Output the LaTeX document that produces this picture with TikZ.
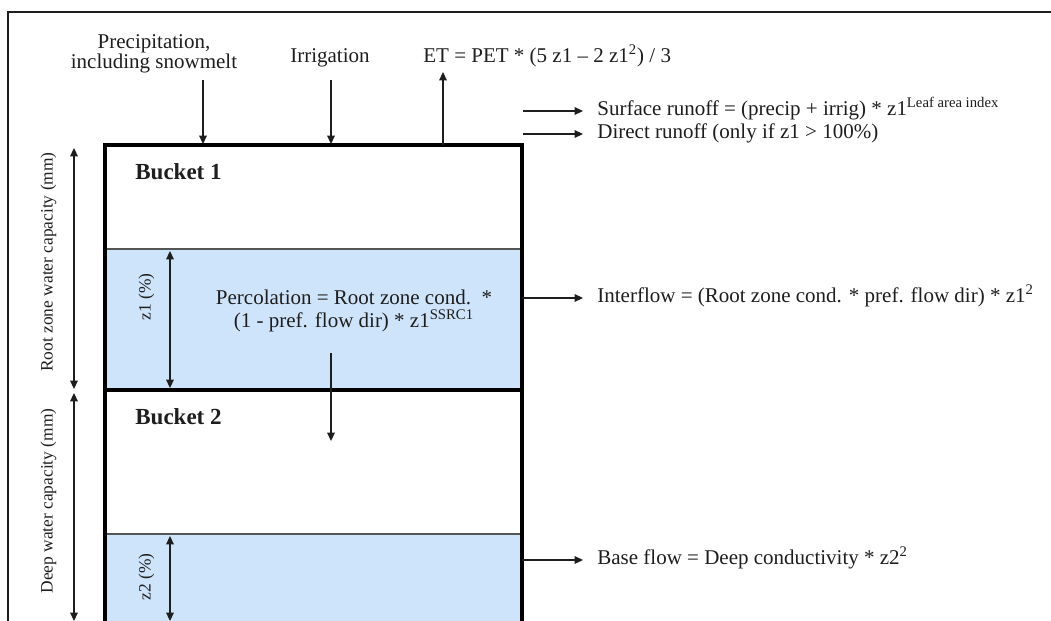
\documentclass[tikz,border=0pt]{standalone}
\usepackage{fontspec}
\setmainfont{Liberation Serif}
\usetikzlibrary{arrows.meta}
\definecolor{water}{RGB}{206,228,250}
\definecolor{ink}{RGB}{30,30,30}
\definecolor{thinline}{RGB}{85,85,85}
\begin{document}
\begin{tikzpicture}[x=0.5pt,y=-0.5pt,
  txt/.style={inner sep=0pt, text=ink, font=\fontsize{10.5}{10}\selectfont},
  twoline/.style={inner sep=0pt, text=ink, align=center, font=\fontsize{10.5}{11.2}\selectfont},
  small/.style={inner sep=0pt, text=ink, font=\fontsize{8.7}{10}\selectfont},
  bucketlabel/.style={inner sep=0pt, text=ink, font=\fontsize{11.5}{12}\selectfont\bfseries},
  flow/.style={draw=ink, line width=0.7pt, -{Triangle[length=4.2pt,width=3.8pt]}},
  dimline/.style={draw=ink, line width=0.7pt, {Triangle[length=4.2pt,width=3.8pt]}-{Triangle[length=4.2pt,width=3.8pt]}},
  boxline/.style={draw=black, line width=2.2pt},
  levelline/.style={draw=thinline, line width=0.9pt}
]
\useasboundingbox (0,0) rectangle (1051,621);
\fill[white] (0,0) rectangle (1051,621);

% water fills
\fill[water] (105,249) rectangle (522,390);
\fill[water] (105,534) rectangle (522,640);
\draw[levelline] (105,249) -- (522,249);
\draw[levelline] (105,534) -- (522,534);

% outer frame
\draw[draw=ink, line width=1pt] (8,650) -- (8,12) -- (1070,12);

% buckets
\draw[boxline] (105,660) -- (105,145) -- (522,145) -- (522,660);
\draw[draw=black, line width=2pt] (105,390) -- (522,390);

% coordinates
\coordinate (precTop) at (203,80);
\coordinate (precBot) at (203,144);
\coordinate (irrTop) at (331,80);
\coordinate (irrBot) at (331,144);
\coordinate (etBot) at (443,145);
\coordinate (etTop) at (443,72);
\coordinate (surfA) at (523,111);
\coordinate (surfB) at (583,111);
\coordinate (dirA) at (523,134);
\coordinate (dirB) at (583,134);
\coordinate (intA) at (522,298);
\coordinate (intB) at (583,298);
\coordinate (baseA) at (522,560);
\coordinate (baseB) at (583,560);
\coordinate (percA) at (331,353);
\coordinate (percB) at (331,441);
\coordinate (rootA) at (74,148);
\coordinate (rootB) at (74,389);
\coordinate (deepA) at (74,393);
\coordinate (deepB) at (74,621);
\coordinate (zoneA) at (170,251);
\coordinate (zoneB) at (170,388);
\coordinate (ztwoA) at (170,536);
\coordinate (ztwoB) at (170,621);

% texts
\node[txt, align=center] (prec) at (154,54) {Precipitation,\\including snowmelt};
\node[txt, anchor=mid] (irr) at (330,58) {Irrigation};
\node[txt, anchor=mid west] (et) at (423,58) {ET = PET * (5 z1 -- 2 z1\textsuperscript{2}) / 3};
\node[txt, anchor=mid west] (surf) at (597,111) {Surface runoff = (precip + irrig) * z1\textsuperscript{Leaf area index}};
\node[txt, anchor=mid west] (dir) at (597,134) {Direct runoff (only if z1 > 100\%)};
\node[txt, anchor=mid west] (int) at (597,298) {Interflow = (Root zone cond. * pref. flow dir) * z1\textsuperscript{2}};
\node[txt, anchor=mid west] (base) at (597,560) {Base flow = Deep conductivity * z2\textsuperscript{2}};
\node[twoline] (perc) at (354,311) {Percolation = Root zone cond.~~*\\(1 - pref. flow dir) * z1\textsuperscript{SSRC1}};
\node[bucketlabel, anchor=mid west] (b1) at (135,175) {Bucket 1};
\node[bucketlabel, anchor=mid west] (b2) at (135,420) {Bucket 2};
\node[small, rotate=90, anchor=mid] (rootlbl) at (48,262) {Root zone water capacity (mm)};
\node[small, rotate=90, anchor=mid] (deeplbl) at (48,501) {Deep water capacity (mm)};
\node[small, rotate=90, anchor=mid] (zonelbl) at (146,297) {z1 (\%)};
\node[small, rotate=90, anchor=mid] (ztwolbl) at (146,577) {z2 (\%)};

% connectors
\draw[flow] (precTop) -- (precBot);
\draw[flow] (irrTop) -- (irrBot);
\draw[flow] (etBot) -- (etTop);
\draw[flow] (surfA) -- (surfB);
\draw[flow] (dirA) -- (dirB);
\draw[flow] (intA) -- (intB);
\draw[flow] (baseA) -- (baseB);
\draw[flow] (percA) -- (percB);
\draw[dimline] (rootA) -- (rootB);
\draw[dimline] (deepA) -- (deepB);
\draw[dimline] (zoneA) -- (zoneB);
\draw[dimline] (ztwoA) -- (ztwoB);
\end{tikzpicture}
\end{document}
